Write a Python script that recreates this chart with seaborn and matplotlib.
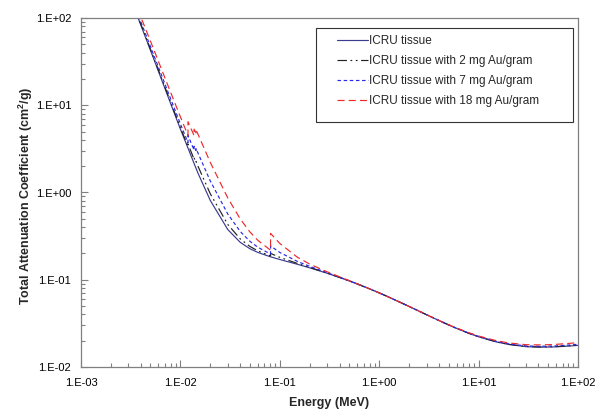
import pandas as pd
import numpy as np
import matplotlib
matplotlib.use("Agg")
import matplotlib.pyplot as plt
from matplotlib.ticker import LogLocator, FuncFormatter, NullFormatter
from matplotlib.patches import Rectangle
import seaborn as sns

# photon energies (MeV); absorption edges of gold are listed twice
energy = [0.001, 0.0015, 0.002, 0.003, 0.004, 0.005, 0.006, 0.008, 0.01,
          0.01192, 0.01192, 0.01373, 0.01373, 0.01435, 0.01435,
          0.015, 0.02, 0.03, 0.04, 0.05, 0.06, 0.08, 0.0807, 0.0807,
          0.1, 0.15, 0.2, 0.3, 0.4, 0.5, 0.6, 0.8,
          1, 1.25, 1.5, 2, 3, 4, 5, 6, 8, 10,
          15, 20, 30, 40, 50, 60, 80, 100]

tissue = [4078, 1376, 617.3, 192.9, 82.78, 42.58, 24.64, 10.37, 5.329,
          3.23, 3.23, 2.15, 2.15, 1.90, 1.90,
          1.673, 0.8096, 0.3756, 0.2683, 0.2269, 0.2059, 0.1837, 0.1832, 0.1832,
          0.1707, 0.1505, 0.1370, 0.1186, 0.1061, 0.09687, 0.08956, 0.07865,
          0.07072, 0.06323, 0.05754, 0.04942, 0.03969, 0.03403, 0.03031, 0.02770, 0.02429, 0.02219,
          0.01941, 0.01813, 0.01710, 0.01689, 0.01691, 0.01702, 0.01735, 0.01769]

au_2mg = [4079, 1377, 618.0, 196.4, 85.0, 43.87, 25.46, 10.77, 5.554,
          3.37, 3.59, 2.41, 2.50, 2.22, 2.27,
          2.008, 0.965, 0.4298, 0.2938, 0.2410, 0.2146, 0.1877, 0.1871, 0.2006,
          0.1807, 0.1539, 0.1386, 0.1191, 0.1063, 0.09698, 0.08961, 0.07866,
          0.07072, 0.06322, 0.05753, 0.04941, 0.03969, 0.03404, 0.03033, 0.02773, 0.02433, 0.02225,
          0.01948, 0.01821, 0.01720, 0.01700, 0.01703, 0.01715, 0.01749, 0.01784]

au_7mg = [4082, 1380, 619.6, 205.0, 90.5, 47.09, 27.50, 11.75, 6.118,
          3.73, 4.50, 3.06, 3.38, 3.03, 3.19,
          2.846, 1.354, 0.5655, 0.3573, 0.2761, 0.2362, 0.1977, 0.1969, 0.2442,
          0.2056, 0.1624, 0.1425, 0.1204, 0.1069, 0.09724, 0.08974, 0.07868,
          0.0707, 0.0632, 0.0575, 0.0494, 0.0397, 0.03408, 0.0304, 0.02781, 0.02444, 0.02238,
          0.01966, 0.01842, 0.01746, 0.01729, 0.01734, 0.01747, 0.01784, 0.01821]

au_18mg = [4088, 1387, 623.3, 224.1, 102.5, 54.18, 31.99, 13.92, 7.357,
           4.51, 6.48, 4.49, 5.32, 4.82, 5.21,
           4.685, 2.209, 0.864, 0.4975, 0.3535, 0.2837, 0.2198, 0.2184, 0.3402,
           0.2605, 0.1813, 0.1512, 0.1232, 0.1081, 0.09783, 0.09004, 0.07872,
           0.07067, 0.06313, 0.05744, 0.04936, 0.03973, 0.03417, 0.03053, 0.02799, 0.02469, 0.02267,
           0.02005, 0.01889, 0.01802, 0.01792, 0.01801, 0.01819, 0.01861, 0.01902]

labels = ["ICRU tissue",
          "ICRU tissue with 2 mg Au/gram",
          "ICRU tissue with 7 mg Au/gram",
          "ICRU tissue with 18 mg Au/gram"]
colors = ["#3b3b8f", "#222222", "#2a2ae6", "#ee2a2a"]
dashes = ["", (8, 3, 1.5, 3, 1.5, 3), (3, 2.2), (6, 3.5)]

frames = []
for lab, vals in zip(labels, [tissue, au_2mg, au_7mg, au_18mg]):
    frames.append(pd.DataFrame({"Energy": energy, "Mu": vals, "Series": lab}))
df = pd.concat(frames, ignore_index=True)

sns.set_style("ticks")
plt.rcParams["font.family"] = ["Liberation Sans", "DejaVu Sans"]
plt.rcParams["mathtext.fontset"] = "custom"
plt.rcParams["mathtext.rm"] = "Liberation Sans"
plt.rcParams["mathtext.bf"] = "Liberation Sans:bold"

fig = plt.figure(figsize=(6.01, 4.15), dpi=100)
ax = fig.add_axes([81 / 601, 48 / 415, 497 / 601, 349 / 415])

sns.lineplot(data=df, x="Energy", y="Mu", hue="Series", style="Series",
             palette=dict(zip(labels, colors)), dashes=dict(zip(labels, dashes)),
             sort=False, estimator=None, linewidth=0.85, ax=ax)

ax.set_xscale("log")
ax.set_yscale("log")
ax.set_xlim(1e-3, 1e2)
ax.set_ylim(1e-2, 1e2)

fmt = FuncFormatter(lambda v, p: "1.E%+03d" % int(round(np.log10(v))))
for axis in (ax.xaxis, ax.yaxis):
    axis.set_major_locator(LogLocator(base=10, numticks=10))
    axis.set_minor_locator(LogLocator(base=10, subs=np.arange(2, 10), numticks=10))
    axis.set_major_formatter(fmt)
    axis.set_minor_formatter(NullFormatter())

ax.tick_params(which="both", direction="in", color="#808080", labelsize=8,
               labelcolor="black", width=0.8)
ax.tick_params(which="major", length=5)
ax.tick_params(axis="x", which="major", pad=8)
ax.tick_params(axis="y", which="major", pad=7)
ax.tick_params(which="minor", length=3)
for s in ax.spines.values():
    s.set_color("#808080")
    s.set_linewidth(0.9)
    s.set_visible(True)

ax.set_xlabel("Energy (MeV)", fontsize=9, fontweight="bold")
ax.set_ylabel(r"Total Attenuation Coefficient (cm$\mathbf{^2}$/g)", fontsize=9, fontweight="bold")
ax.xaxis.set_label_coords(0.5, -0.103)
ax.xaxis.label.set_va("center")
ax.yaxis.set_label_coords(-0.11, 0.49)
ax.yaxis.label.set_va("center")

# legend box
ax.add_patch(Rectangle((0.473, 0.702), 0.517, 0.269, transform=ax.transAxes,
                       facecolor="white", edgecolor="#333333", linewidth=0.8, zorder=4))
handles, labs = ax.get_legend_handles_labels()
leg = ax.legend(handles, labs, loc="upper left", bbox_to_anchor=(0.515, 0.95),
                frameon=False, fontsize=8.5, handlelength=2.6, handletextpad=0.12,
                labelspacing=0.66, borderpad=0, borderaxespad=0)
leg.set_zorder(5)
for h in leg.get_lines():
    h.set_linewidth(0.85)

fig.savefig("out.png", dpi=100)
